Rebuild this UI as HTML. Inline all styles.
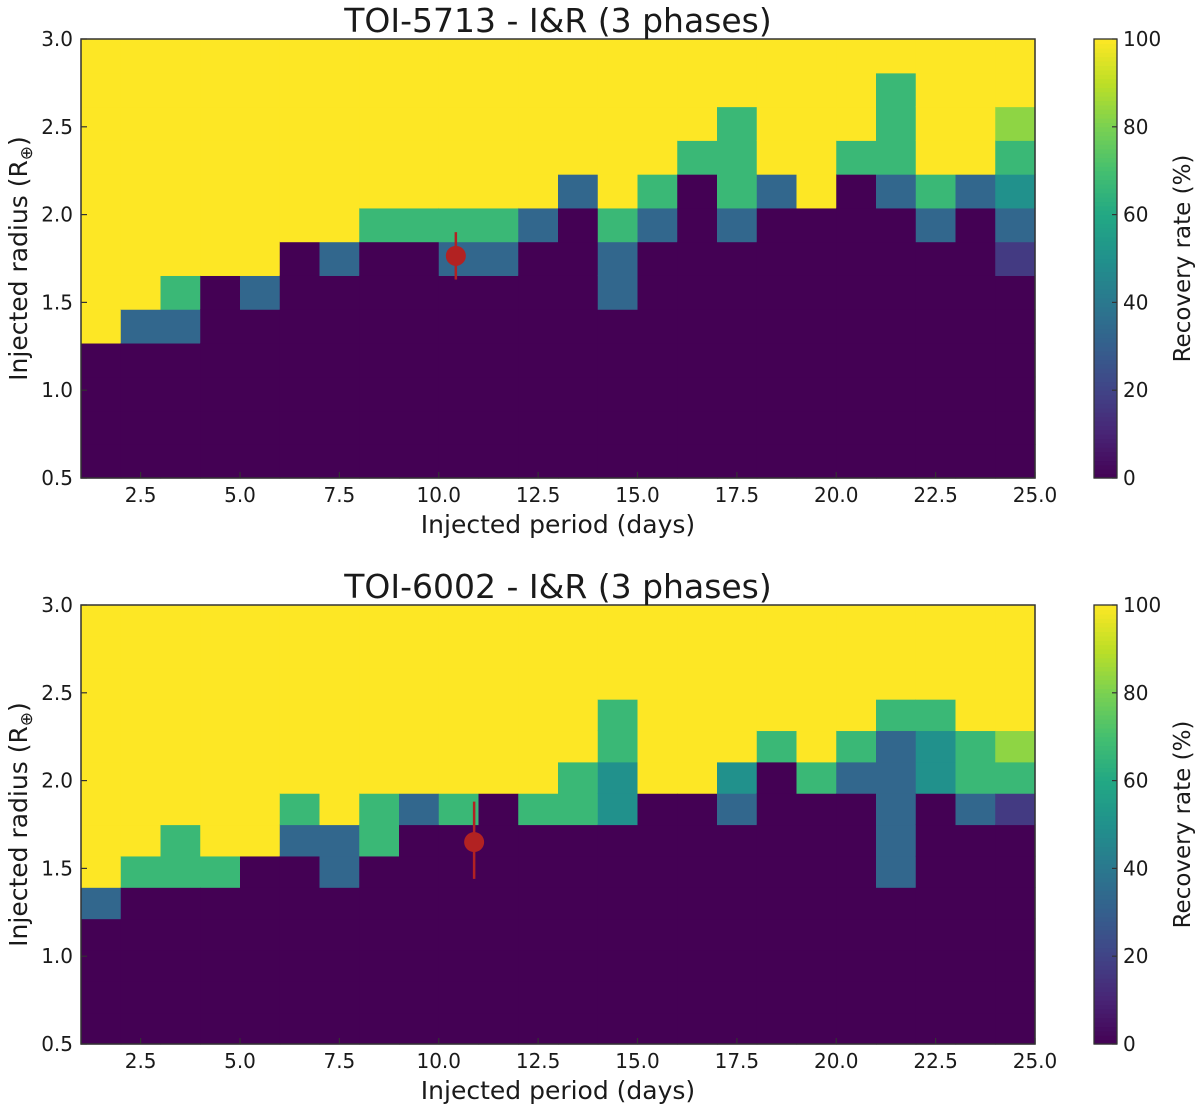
<!DOCTYPE html>
<html><head><meta charset="utf-8"><style>
body{margin:0;background:#fff;}
svg text{font-family:"DejaVu Sans","Liberation Sans",sans-serif;fill:#1a1a1a;}
</style></head><body>
<svg id="fig" width="1200" height="1110" viewBox="0 0 1200 1110" xmlns="http://www.w3.org/2000/svg"></svg>
<script>
// ---- data ----
const periodTicks = [2.5,5.0,7.5,10.0,12.5,15.0,17.5,20.0,22.5,25.0];
const radiusTicks = [0.5,1.0,1.5,2.0,2.5,3.0];
const cbarTicks = [0,20,40,60,80,100];
const titles = ["TOI-5713 - I&R (3 phases)","TOI-6002 - I&R (3 phases)"];
// columns (period bins 1..25, step 1), values bottom->top
const grid1 = [
[0,0,0,0,100,100,100,100,100,100,100,100,100],
[0,0,0,0,33,100,100,100,100,100,100,100,100],
[0,0,0,0,33,67,100,100,100,100,100,100,100],
[0,0,0,0,0,0,100,100,100,100,100,100,100],
[0,0,0,0,0,33,100,100,100,100,100,100,100],
[0,0,0,0,0,0,0,100,100,100,100,100,100],
[0,0,0,0,0,0,33,100,100,100,100,100,100],
[0,0,0,0,0,0,0,67,100,100,100,100,100],
[0,0,0,0,0,0,0,67,100,100,100,100,100],
[0,0,0,0,0,0,33,67,100,100,100,100,100],
[0,0,0,0,0,0,33,67,100,100,100,100,100],
[0,0,0,0,0,0,0,33,100,100,100,100,100],
[0,0,0,0,0,0,0,0,33,100,100,100,100],
[0,0,0,0,0,33,33,67,100,100,100,100,100],
[0,0,0,0,0,0,0,33,67,100,100,100,100],
[0,0,0,0,0,0,0,0,0,67,100,100,100],
[0,0,0,0,0,0,0,33,67,67,67,100,100],
[0,0,0,0,0,0,0,0,33,100,100,100,100],
[0,0,0,0,0,0,0,0,100,100,100,100,100],
[0,0,0,0,0,0,0,0,0,67,100,100,100],
[0,0,0,0,0,0,0,0,33,67,67,67,100],
[0,0,0,0,0,0,0,33,67,100,100,100,100],
[0,0,0,0,0,0,0,0,33,100,100,100,100],
[0,0,0,0,0,0,17,33,50,67,83,100,100]
];
const grid2 = [
[0,0,0,0,33,100,100,100,100,100,100,100,100,100],
[0,0,0,0,0,67,100,100,100,100,100,100,100,100],
[0,0,0,0,0,67,67,100,100,100,100,100,100,100],
[0,0,0,0,0,67,100,100,100,100,100,100,100,100],
[0,0,0,0,0,0,100,100,100,100,100,100,100,100],
[0,0,0,0,0,0,33,67,100,100,100,100,100,100],
[0,0,0,0,0,33,33,100,100,100,100,100,100,100],
[0,0,0,0,0,0,67,67,100,100,100,100,100,100],
[0,0,0,0,0,0,0,33,100,100,100,100,100,100],
[0,0,0,0,0,0,0,67,100,100,100,100,100,100],
[0,0,0,0,0,0,0,0,100,100,100,100,100,100],
[0,0,0,0,0,0,0,67,100,100,100,100,100,100],
[0,0,0,0,0,0,0,67,67,100,100,100,100,100],
[0,0,0,0,0,0,0,50,50,67,67,100,100,100],
[0,0,0,0,0,0,0,0,100,100,100,100,100,100],
[0,0,0,0,0,0,0,0,100,100,100,100,100,100],
[0,0,0,0,0,0,0,33,50,100,100,100,100,100],
[0,0,0,0,0,0,0,0,0,67,100,100,100,100],
[0,0,0,0,0,0,0,0,67,100,100,100,100,100],
[0,0,0,0,0,0,0,0,33,67,100,100,100,100],
[0,0,0,0,0,33,33,33,33,33,67,100,100,100],
[0,0,0,0,0,0,0,0,50,50,67,100,100,100],
[0,0,0,0,0,0,0,33,67,67,100,100,100,100],
[0,0,0,0,0,0,0,17,67,83,100,100,100,100]
];
const planetPeriod = [10.43, 10.89];
const planetRadius = [1.765, 1.65];
const planetErrLo = [0.135, 0.21];
const planetErrHi = [0.135, 0.23];

// ---- drawing ----
const NS="http://www.w3.org/2000/svg";
const svg=document.getElementById('fig');
function mk(tag,attrs,parent){const e=document.createElementNS(NS,tag);for(const k in attrs)e.setAttribute(k,attrs[k]);(parent||svg).appendChild(e);return e;}
const vstops=["#440154","#482475","#414487","#355f8d","#2a788e","#21918c","#22a884","#44bf70","#7ad151","#bddf26","#fde725"];
function hex(h){return [1,3,5].map(i=>parseInt(h.substr(i,2),16));}
function viridis(v){let t=Math.max(0,Math.min(1,v/100))*10;let i=Math.min(9,Math.floor(t));let f=t-i;const a=hex(vstops[i]),b=hex(vstops[i+1]);return "rgb("+a.map((c,k)=>Math.round(c+(b[k]-c)*f)).join(",")+")";}

const X0=81,X1=1035;
const panels=[{top:39,bot:478,grid:grid1},{top:605,bot:1044,grid:grid2}];
const xs=p=>X0+(p-1)/24*(X1-X0);
panels.forEach((P,pi)=>{
  const ys=r=>P.bot-(r-0.5)/2.5*(P.bot-P.top);
  const g=mk('g',{});
  
  
  const nrows=P.grid[0].length, rh=2.5/nrows;
  P.grid.forEach((col,ci)=>{col.forEach((v,ri)=>{
    const x=xs(1+ci),w=xs(2+ci)-x,y=ys(0.5+(ri+1)*rh),h=ys(0.5+ri*rh)-y;
    const c=mk('rect',{x:x,y:y,width:w+0.6,height:h+0.6,fill:viridis(v)},g);
    
    
  });});
  mk('rect',{x:X0,y:P.top,width:X1-X0,height:P.bot-P.top,fill:'none',stroke:'#333','stroke-width':1.5},g);
  periodTicks.forEach(t=>{const x=xs(t);mk('line',{x1:x,x2:x,y1:P.bot,y2:P.bot-6,stroke:'#333','stroke-width':1.2},g);
    const tx=mk('text',{x:x,y:P.bot+24,'font-size':20,'text-anchor':'middle'},g);tx.textContent=t.toFixed(1);
    });
  radiusTicks.forEach(t=>{const y=ys(t);mk('line',{x1:X0,x2:X0+6,y1:y,y2:y,stroke:'#333','stroke-width':1.2},g);
    const tx=mk('text',{x:X0-8,y:y+7,'font-size':20,'text-anchor':'end'},g);tx.textContent=t.toFixed(1);
    });
  const ti=mk('text',{x:558,y:P.top-7,'font-size':33,'text-anchor':'middle'},g);ti.textContent=titles[pi];
  
  const xl=mk('text',{x:558,y:P.bot+55,'font-size':25,'text-anchor':'middle'},g);xl.textContent='Injected period (days)';
  
  const cy=(P.top+P.bot)/2;
  const yl=mk('text',{x:0,y:0,'font-size':25,'text-anchor':'middle',transform:'translate(27,'+cy+') rotate(-90)'},g);
  yl.innerHTML='Injected radius (R<tspan font-size="17" dy="5">⊕</tspan><tspan dy="-5">)</tspan>';
  
  const px=xs(planetPeriod[pi]),py=ys(planetRadius[pi]);
  const eb=mk('line',{x1:px,x2:px,y1:ys(planetRadius[pi]+planetErrHi[pi]),y2:ys(planetRadius[pi]-planetErrLo[pi]),stroke:'#b22222','stroke-width':2.5},g);
  
  const dot=mk('circle',{cx:px,cy:py,r:10,fill:'#b22222'},g);
  
  const cb=mk('g',{});
  
  const CX=1094,CW=23,N=100;
  for(let i=0;i<N;i++){const y=P.bot-(i+1)/N*(P.bot-P.top);mk('rect',{x:CX,y:y,width:CW,height:(P.bot-P.top)/N+0.6,fill:viridis(i+0.5)},cb);}
  mk('rect',{x:CX,y:P.top,width:CW,height:P.bot-P.top,fill:'none',stroke:'#333','stroke-width':1.3},cb);
  cbarTicks.forEach(t=>{const y=P.bot-t/100*(P.bot-P.top);mk('line',{x1:CX+CW,x2:CX+CW-5,y1:y,y2:y,stroke:'#333','stroke-width':1.2},cb);
    const tx=mk('text',{x:CX+CW+6,y:y+7,'font-size':20},cb);tx.textContent=t;
    });
  const cl=mk('text',{x:0,y:0,'font-size':23,'text-anchor':'middle',transform:'translate(1190,'+cy+') rotate(-90)'},cb);cl.textContent='Recovery rate (%)';
  
});
</script>
</body></html>
